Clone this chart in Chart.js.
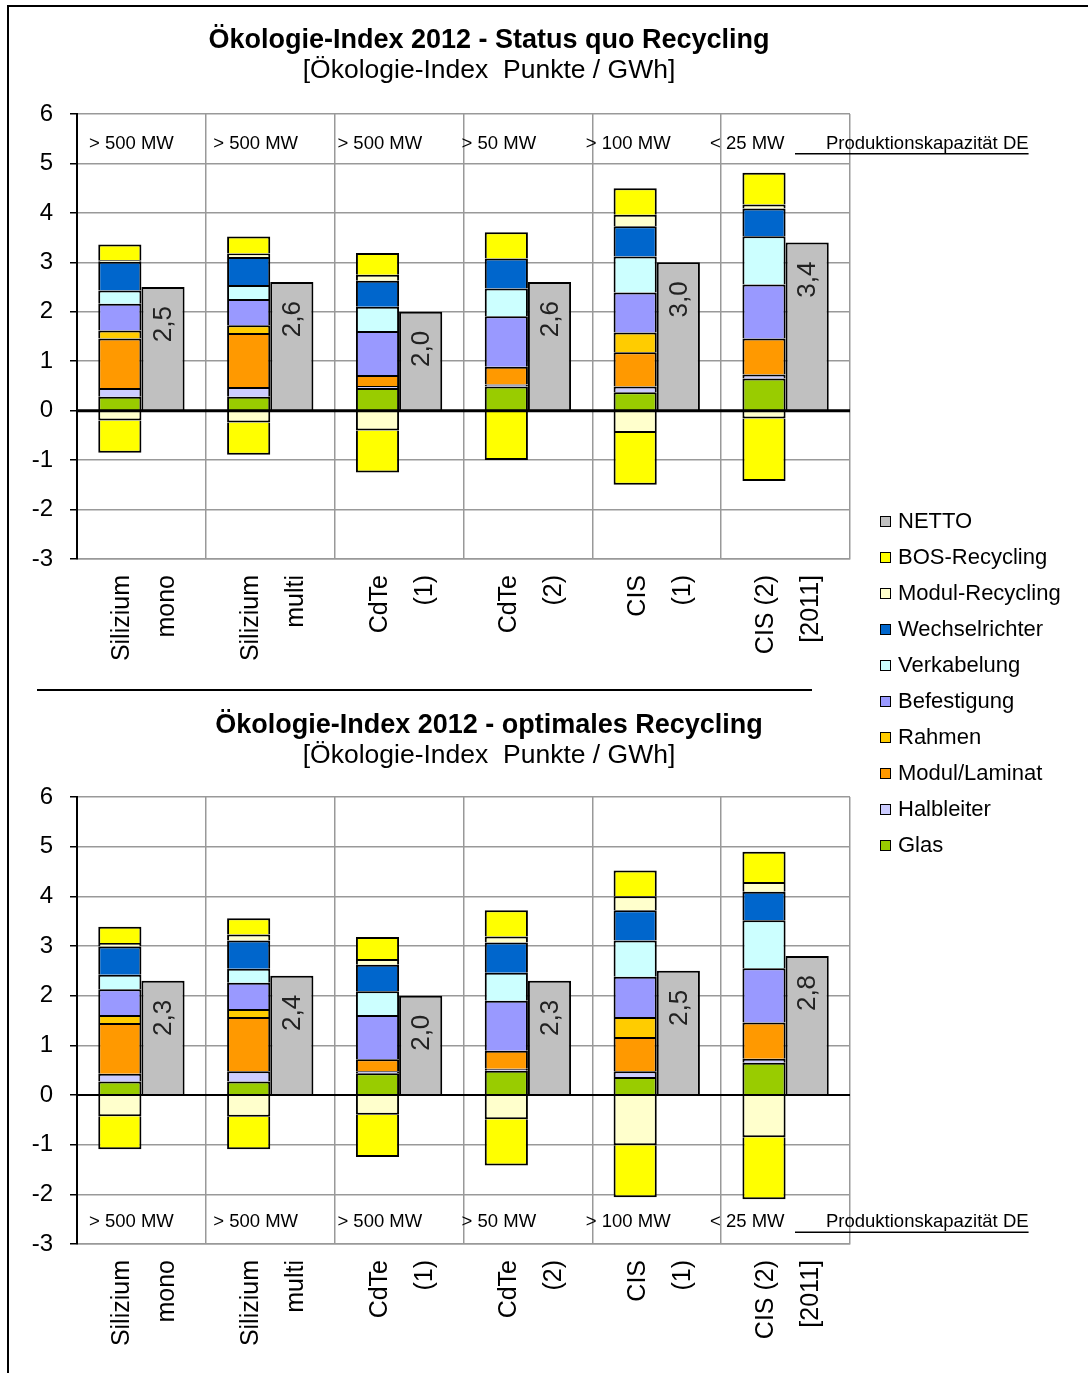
<!DOCTYPE html>
<html lang="de">
<head>
<meta charset="utf-8">
<title>Ökologie-Index 2012</title>
<script src="https://cdn.jsdelivr.net/npm/chart.js@4.4.1/dist/chart.umd.min.js"></script>
<style>
  html, body { margin: 0; padding: 0; background: #fff; }
  body { width: 1088px; height: 1373px; position: relative; overflow: hidden;
         font-family: "Liberation Sans", Arial, sans-serif; }
  #frame { position: absolute; left: 7px; top: 5px; width: 1081px; height: 1368px;
           border-left: 2px solid #000; border-top: 2px solid #000; box-sizing: border-box; }
  #sep { position: absolute; left: 37px; top: 689px; width: 775px; height: 0; border-top: 2px solid #000; }
  canvas { position: absolute; left: 0; }
  #cTop { top: 0; }
  #cBottom { top: 692px; }
  #legend { position: absolute; left: 880px; top: 503px; }
  #legend .li { height: 36px; display: flex; align-items: center; font-size: 22px; color: #000; white-space: nowrap; }
  #legend .sw { width: 9px; height: 9px; border: 1.5px solid #000; margin-right: 7px; flex: none; }
</style>
</head>
<body>
<div id="frame"></div>
<canvas id="cTop" width="1088" height="690"></canvas>
<div id="sep"></div>
<canvas id="cBottom" width="1088" height="681"></canvas>
<div id="legend"></div>

<script>
// ---- texts ----
const titleTop = "Ökologie-Index 2012 - Status quo Recycling";
const titleBottom = "Ökologie-Index 2012 - optimales Recycling";
const unitLine = "[Ökologie-Index  Punkte / GWh]";

const categories = [["Silizium", "mono"], ["Silizium", "multi"], ["CdTe", "(1)"], ["CdTe", "(2)"], ["CIS", "(1)"], ["CIS (2)", "[2011]"]];
const capacities = ["> 500 MW", "> 500 MW", "> 500 MW", "> 50 MW", "> 100 MW", "< 25 MW"];
const capacityCaption = "Produktionskapazität DE";
const yTicks = [-3, -2, -1, 0, 1, 2, 3, 4, 5, 6];

// ---- Status quo Recycling ----
const sqGlas            = [0.28, 0.28, 0.46, 0.49, 0.37, 0.65];
const sqHalbleiter      = [0.18, 0.20, 0.04, 0.04, 0.12, 0.08];
const sqLaminat         = [1.00, 1.09, 0.22, 0.36, 0.69, 0.73];
const sqRahmen          = [0.16, 0.16, 0.00, 0.00, 0.40, 0.00];
const sqBefestigung     = [0.54, 0.53, 0.89, 1.02, 0.81, 1.09];
const sqVerkabelung     = [0.27, 0.28, 0.49, 0.56, 0.73, 0.98];
const sqWechselrichter  = [0.58, 0.57, 0.53, 0.61, 0.61, 0.56];
const sqModulRecPlus    = [0.03, 0.07, 0.12, 0.00, 0.23, 0.08];
const sqBosRecPlus      = [0.32, 0.34, 0.44, 0.53, 0.54, 0.64];
const sqModulRecMinus   = [-0.20, -0.24, -0.40, 0.00, -0.45, -0.16];
const sqBosRecMinus     = [-0.65, -0.65, -0.85, -1.00, -1.05, -1.26];
const sqNetto           = [2.5, 2.6, 2.0, 2.6, 3.0, 3.4];

// ---- optimales Recycling ----
const opGlas            = [0.27, 0.27, 0.44, 0.49, 0.36, 0.65];
const opHalbleiter      = [0.16, 0.21, 0.04, 0.04, 0.12, 0.08];
const opLaminat         = [1.02, 1.09, 0.24, 0.36, 0.69, 0.73];
const opRahmen          = [0.16, 0.16, 0.00, 0.00, 0.40, 0.00];
const opBefestigung     = [0.52, 0.53, 0.89, 1.01, 0.81, 1.09];
const opVerkabelung     = [0.29, 0.28, 0.48, 0.56, 0.73, 0.97];
const opWechselrichter  = [0.57, 0.57, 0.53, 0.61, 0.61, 0.57];
const opModulRecPlus    = [0.07, 0.12, 0.12, 0.12, 0.28, 0.20];
const opBosRecPlus      = [0.33, 0.33, 0.44, 0.53, 0.52, 0.61];
const opModulRecMinus   = [-0.43, -0.44, -0.40, -0.49, -1.01, -0.85];
const opBosRecMinus     = [-0.66, -0.65, -0.85, -0.93, -1.05, -1.25];
const opNetto           = [2.3, 2.4, 2.0, 2.3, 2.5, 2.8];

// ---- styling ----
const FONT = '"Liberation Sans", Arial, sans-serif';
const COLORS = {
  netto: '#C0C0C0', bos: '#FFFF00', modulRec: '#FFFFCC', wechsel: '#0066CC', verkabelung: '#CCFFFF',
  befestigung: '#9999FF', rahmen: '#FFCC00', laminat: '#FF9900', halbleiter: '#CCCCFF', glas: '#99CC00'
};
const GRID = '#999999';

function part(label, data, color, inLegend = true) {
  return { label, data, backgroundColor: color, borderColor: '#000', borderWidth: 2,
           stack: 'parts', inLegend };
}

function buildDatasets(s) {
  return [
    part('Glas', s[0], COLORS.glas),
    part('Halbleiter', s[1], COLORS.halbleiter),
    part('Modul/Laminat', s[2], COLORS.laminat),
    part('Rahmen', s[3], COLORS.rahmen),
    part('Befestigung', s[4], COLORS.befestigung),
    part('Verkabelung', s[5], COLORS.verkabelung),
    part('Wechselrichter', s[6], COLORS.wechsel),
    part('Modul-Recycling', s[7], COLORS.modulRec),
    part('BOS-Recycling', s[8], COLORS.bos),
    part('Modul-Recycling', s[9], COLORS.modulRec, false),
    part('BOS-Recycling', s[10], COLORS.bos, false),
    { label: 'NETTO', data: s[11], backgroundColor: COLORS.netto, borderColor: '#000', borderWidth: 2,
      stack: 'net', inLegend: true, isNet: true }
  ];
}

const fmt = v => v.toFixed(1).replace('.', ',');

// headings, capacity row, zero line and net value labels
const decorPlugin = {
  id: 'decor',
  afterDatasetsDraw(chart, args, o) {
    const { ctx, chartArea, scales: { y } } = chart;
    // zero line across the plot
    const y0 = y.getPixelForValue(0);
    ctx.save();
    ctx.strokeStyle = '#000';
    ctx.lineWidth = o.zeroWidth;
    ctx.beginPath();
    ctx.moveTo(chartArea.left, y0);
    ctx.lineTo(chartArea.right, y0);
    ctx.stroke();
    // rotated net values inside the grey bars
    chart.data.datasets.forEach((ds, di) => {
      if (!ds.isNet) return;
      chart.getDatasetMeta(di).data.forEach((bar, i) => {
        ctx.save();
        ctx.translate(bar.x + 1, bar.y + 19);
        ctx.rotate(-Math.PI / 2);
        ctx.font = '26px ' + FONT;
        ctx.fillStyle = '#222';
        ctx.textAlign = 'right';
        ctx.textBaseline = 'middle';
        ctx.fillText(fmt(ds.data[i]), 0, 0);
        ctx.restore();
      });
    });
    ctx.restore();
  },
  afterDraw(chart, args, o) {
    const { ctx, chartArea, scales: { y } } = chart;
    ctx.save();
    ctx.fillStyle = '#000';
    ctx.textAlign = 'center';
    ctx.textBaseline = 'middle';
    ctx.font = 'bold 27px ' + FONT;
    ctx.fillText(o.title, 489, o.titleY);
    ctx.font = '26.5px ' + FONT;
    ctx.fillText(unitLine, 489, o.titleY + 30);

    // production capacity row
    const yy = y.getPixelForValue(o.capacityRow);
    ctx.font = '18.5px ' + FONT;
    ctx.textAlign = 'left';
    capacities.forEach((t, i) => ctx.fillText(t, chartArea.left + 12 + i * 124.2, yy));
    const cx = chartArea.right - 24;
    ctx.fillText(capacityCaption, cx, yy);
    const w = ctx.measureText(capacityCaption).width;
    ctx.strokeStyle = '#000';
    ctx.lineWidth = 1.5;
    ctx.beginPath();
    ctx.moveTo(chartArea.right - 55, yy + 10);
    ctx.lineTo(cx + w, yy + 10);
    ctx.stroke();
    ctx.restore();
  }
};

function makeChart(canvasId, series, opts) {
  return new Chart(document.getElementById(canvasId), {
    type: 'bar',
    data: { labels: categories, datasets: buildDatasets(series) },
    plugins: [decorPlugin],
    options: {
      responsive: false,
      animation: false,
      events: [],
      layout: { padding: { left: 0, right: 238, top: opts.top, bottom: opts.bottom } },
      datasets: { bar: { barPercentage: 1.0, categoryPercentage: 0.67 } },
      plugins: {
        legend: { display: false },
        tooltip: { enabled: false },
        decor: { title: opts.title, titleY: opts.titleY, capacityRow: opts.capacityRow, zeroWidth: opts.zeroWidth }
      },
      scales: {
        x: {
          stacked: true,
          grid: { color: GRID, lineWidth: 1.5, drawTicks: false, offset: true },
          border: { color: GRID, width: 1.5 },
          ticks: { autoSkip: false, minRotation: 90, maxRotation: 90, color: '#000', padding: 16,
                   labelOffset: -19, font: { family: FONT, size: 25, lineHeight: 1.8 } },
          afterFit(scale) { scale.height = 120; }
        },
        y: {
          stacked: true,
          min: yTicks[0], max: yTicks[yTicks.length - 1],
          afterBuildTicks(scale) { scale.ticks = yTicks.map(v => ({ value: v })); },
          grid: { color: c => (c.tick && c.tick.value === 0) ? '#000' : GRID, lineWidth: 1.5,
                  tickColor: '#000', tickLength: 7, drawTicks: true },
          border: { color: '#000', width: 2 },
          ticks: { color: '#000', padding: 17, font: { family: FONT, size: 24 } },
          afterFit(scale) { scale.width = 77; }
        }
      }
    }
  });
}

const topChart = makeChart('cTop',
  [sqGlas, sqHalbleiter, sqLaminat, sqRahmen, sqBefestigung, sqVerkabelung, sqWechselrichter,
   sqModulRecPlus, sqBosRecPlus, sqModulRecMinus, sqBosRecMinus, sqNetto],
  { title: titleTop, titleY: 41, top: 114, bottom: 11, capacityRow: 5.4, zeroWidth: 3 });

makeChart('cBottom',
  [opGlas, opHalbleiter, opLaminat, opRahmen, opBefestigung, opVerkabelung, opWechselrichter,
   opModulRecPlus, opBosRecPlus, opModulRecMinus, opBosRecMinus, opNetto],
  { title: titleBottom, titleY: 34, top: 105, bottom: 9, capacityRow: -2.56, zeroWidth: 2 });

// shared legend, listed from the top of the stack downwards
const legendEl = document.getElementById('legend');
topChart.data.datasets
  .map((ds, i) => ({ ds, i }))
  .filter(e => e.ds.inLegend)
  .reverse()
  .forEach(({ ds }) => {
    const row = document.createElement('div');
    row.className = 'li';
    const sw = document.createElement('span');
    sw.className = 'sw';
    sw.style.background = ds.backgroundColor;
    const tx = document.createElement('span');
    tx.textContent = ds.label;
    row.appendChild(sw);
    row.appendChild(tx);
    legendEl.appendChild(row);
  });
</script>
</body>
</html>
